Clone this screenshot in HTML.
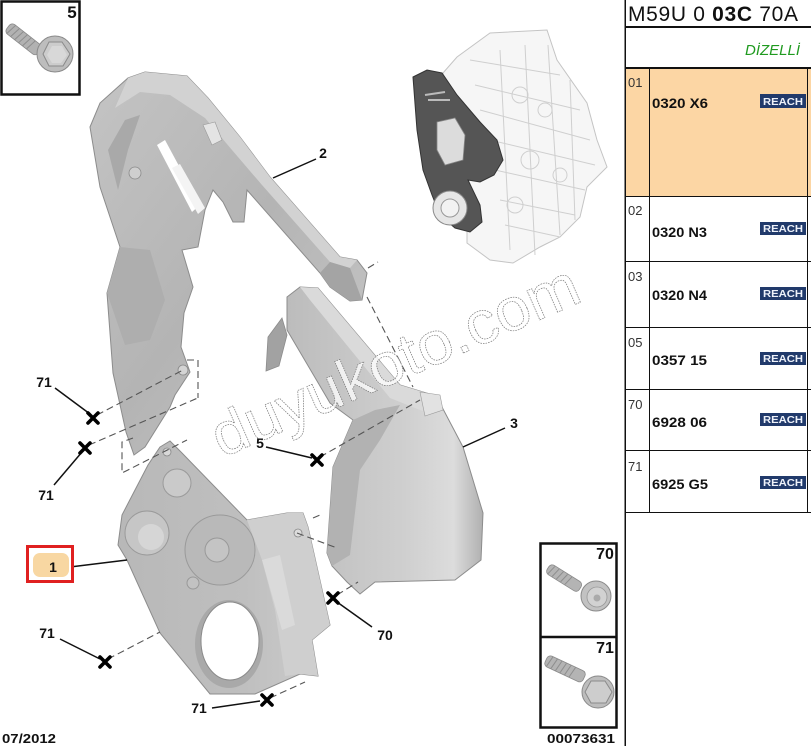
<!DOCTYPE html>
<html><head><meta charset="utf-8"><style>
html,body{margin:0;padding:0;background:#fff;width:811px;height:746px;overflow:hidden}
svg{display:block}
text{font-family:"Liberation Sans",Arial,sans-serif}
</style></head><body>
<svg width="811" height="746" viewBox="0 0 811 746" xmlns="http://www.w3.org/2000/svg">
<defs>
<linearGradient id="g2" x1="0" y1="0" x2="1" y2="1">
<stop offset="0" stop-color="#c4c4c4"/><stop offset="0.5" stop-color="#b4b4b4"/><stop offset="1" stop-color="#c8c8c8"/></linearGradient>
<linearGradient id="g3" x1="0" y1="0" x2="1" y2="0">
<stop offset="0" stop-color="#bcbcbc"/><stop offset="0.6" stop-color="#cfcfcf"/><stop offset="0.85" stop-color="#dcdcdc"/><stop offset="1" stop-color="#b0b0b0"/></linearGradient>
<linearGradient id="g1" x1="0" y1="0" x2="1" y2="0">
<stop offset="0" stop-color="#b8b8b8"/><stop offset="0.6" stop-color="#bfbfbf"/><stop offset="1" stop-color="#cdcdcd"/></linearGradient>
</defs>

<!-- ===== Engine (top right) ===== -->
<g>
<path d="M490,33 L547,30 L557,60 L587,103 L597,140 L607,167 L587,187 L580,217 L560,237 L540,247 L513,263 L490,260 L467,243 L467,230 L443,120 L443,73 L457,57 Z" fill="#f6f6f6" stroke="#c4c4c4" stroke-width="1"/>
<g stroke="#cfcfcf" stroke-width="1" fill="none">
<path d="M470,60 L560,75 M475,85 L580,110 M480,110 L590,140 M490,140 L595,165 M495,170 L585,190 M500,200 L575,215 M505,225 L560,237"/>
<path d="M500,50 L510,250 M525,45 L535,255 M548,45 L560,235 M570,80 L575,220"/>
<circle cx="520" cy="95" r="8"/><circle cx="545" cy="110" r="7"/><circle cx="530" cy="160" r="9"/><circle cx="560" cy="175" r="7"/><circle cx="515" cy="205" r="8"/>
</g>
<path d="M413,77 L427,70 L442,73 L457,95 L480,122 L497,140 L503,160 L494,175 L480,182 L468,180 L480,205 L482,222 L470,232 L455,228 L440,215 L432,195 L423,170 L417,130 Z" fill="#555" stroke="#333" stroke-width="1"/>
<path d="M437,122 L455,118 L465,135 L463,160 L445,165 L437,150 Z" fill="#dcdcdc" stroke="#888" stroke-width="0.8"/>
<path d="M425,95 L445,92 M428,100 L450,100" stroke="#bbb" stroke-width="2"/>
<circle cx="450" cy="208" r="17" fill="#e6e6e6" stroke="#888" stroke-width="1"/>
<circle cx="450" cy="208" r="9" fill="#f2f2f2" stroke="#999" stroke-width="1"/>
</g>

<!-- ===== Part 2 ===== -->
<path d="M90,127 L100,103 L128,78 L145,72 L187,76 L208,98 L240,137 L270,177 L340,257 L357,260 L367,273 L362,300 L350,301 L330,287 L320,273 L247,190 L244,222 L233,222 L223,202 L213,190 L205,210 L198,247 L182,250 L193,287 L184,313 L181,347 L190,372 L175,395 L170,407 L145,447 L134,455 L126,432 L113,373 L107,293 L120,247 L100,187 Z" fill="url(#g2)" stroke="#8c8c8c" stroke-width="1"/>
<path d="M128,78 L145,72 L187,76 L208,98 L240,137 L270,177 L340,257 L357,260 L350,268 L330,262 L262,185 L232,150 L205,118 L170,95 L140,92 L115,108 Z" fill="#d2d2d2"/>
<path d="M320,273 L330,262 L350,268 L362,300 L350,301 L330,287 Z" fill="#a4a4a4"/>
<path d="M157,145 L165,140 L200,205 L192,212 Z" fill="#ffffff"/>
<path d="M172,168 L180,164 L205,208 L198,214 Z" fill="#f4f4f4"/>
<path d="M108,150 L125,120 L140,115 L128,150 L118,190 Z" fill="#a9a9a9"/>
<path d="M107,293 L120,247 L150,250 L165,300 L150,340 L125,345 Z" fill="#aeaeae"/>
<circle cx="135" cy="173" r="6" fill="#cfcfcf" stroke="#8a8a8a" stroke-width="0.8"/>
<path d="M203,125 L215,122 L222,140 L212,145 Z" fill="#e4e4e4" stroke="#999" stroke-width="0.6"/>
<circle cx="183" cy="370" r="5" fill="#d4d4d4" stroke="#888" stroke-width="0.8"/>

<!-- ===== Part 3 ===== -->
<path d="M287,297 L300,287 L318,288 L400,385 L433,395 L442,407 L463,447 L483,513 L481,560 L455,580 L375,582 L360,594 L347,582 L332,566 L327,553 L333,467 L353,420 L330,403 L287,330 Z" fill="url(#g3)" stroke="#8c8c8c" stroke-width="1"/>
<path d="M300,287 L318,288 L400,385 L433,395 L442,407 L425,412 L390,398 L310,300 Z" fill="#dadada"/>
<path d="M282,318 L268,337 L266,371 L279,366 L287,335 Z" fill="#a2a2a2" stroke="#8c8c8c" stroke-width="0.8"/>
<path d="M333,467 L353,420 L375,410 L400,405 L380,440 L360,470 L350,555 L332,566 L327,553 Z" fill="#b2b2b2"/>
<path d="M420,392 L440,395 L443,410 L425,416 Z" fill="#e2e2e2" stroke="#999" stroke-width="0.6"/>

<!-- ===== Part 1 ===== -->
<path d="M160,447 L170,441 L181,452 L247,520 L287,513 L303,513 L308,527 L330,625 L312,640 L318,676 L300,674 L255,694 L210,694 L160,633 L127,560 L118,545 L122,515 L148,465 Z" fill="url(#g1)" stroke="#8c8c8c" stroke-width="1"/>
<path d="M247,520 L287,513 L303,513 L308,527 L330,625 L312,640 L318,676 L300,674 L285,676 L275,610 L262,560 Z" fill="#cfcfcf"/>
<path d="M262,560 L280,555 L295,625 L282,630 Z" fill="#dadada"/>
<circle cx="147" cy="533" r="22" fill="#c6c6c6" stroke="#9a9a9a" stroke-width="1"/>
<circle cx="151" cy="537" r="13" fill="#d6d6d6"/>
<circle cx="177" cy="483" r="14" fill="#cacaca" stroke="#9a9a9a" stroke-width="1"/>
<circle cx="220" cy="550" r="35" fill="#b9b9b9" stroke="#9a9a9a" stroke-width="1"/>
<circle cx="217" cy="550" r="12" fill="#c4c4c4" stroke="#999" stroke-width="1"/>
<circle cx="193" cy="583" r="6" fill="#c2c2c2" stroke="#999" stroke-width="1"/>
<ellipse cx="229" cy="644" rx="34" ry="44" fill="#a9a9a9"/>
<ellipse cx="230" cy="641" rx="29" ry="39" fill="#ffffff" stroke="#8a8a8a" stroke-width="1"/>
<circle cx="167" cy="452" r="4" fill="#d8d8d8" stroke="#888" stroke-width="0.8"/>
<circle cx="298" cy="533" r="4" fill="#dcdcdc" stroke="#888" stroke-width="0.8"/>

<!-- ===== Dashed lines ===== -->
<g stroke="#555" stroke-width="1.1" fill="none" stroke-dasharray="7,4">
<path d="M97,415 L183,370"/>
<path d="M89,445 L200,397"/>
<path d="M187,360 L198,360 L198,398"/>
<path d="M133,438 L122,442 L122,473 L187,440"/>
<path d="M320,457 L420,400"/>
<path d="M337,595 L358,582"/>
<path d="M297,533 L337,548"/>
<path d="M313,518 L320,515"/>
<path d="M108,659 L160,632"/>
<path d="M270,698 L305,682"/>
<path d="M367,297 L413,387"/>
<path d="M368,268 L378,262"/>
</g>

<!-- ===== Watermark ===== -->
<text x="0" y="0" transform="translate(222,458) rotate(-23.5)" font-size="60" fill="#ffffff" fill-opacity="0.75" stroke="#7a7a7a" stroke-width="0.7" stroke-dasharray="1.5,1" textLength="395" lengthAdjust="spacingAndGlyphs">duyukoto.com</text>

<!-- ===== Solid leader lines ===== -->
<g stroke="#111" stroke-width="1.5" fill="none">
<path d="M316,159 L273,178"/>
<path d="M505,428 L463,447"/>
<path d="M266,447 L312,458"/>
<path d="M337,602 L372,627"/>
<path d="M55,388 L90,414"/>
<path d="M82,452 L54,485"/>
<path d="M60,639 L100,659"/>
<path d="M212,708 L260,701"/>
<path d="M70,567 L127,560"/>
</g>

<!-- X markers -->
<g stroke="#000" stroke-width="3.6" stroke-linecap="round">
<path d="M88,413 L98,423 M98,413 L88,423"/>
<path d="M80,443 L90,453 M90,443 L80,453"/>
<path d="M100,657 L110,667 M110,657 L100,667"/>
<path d="M262,695 L272,705 M272,695 L262,705"/>
<path d="M312,455 L322,465 M322,455 L312,465"/>
<path d="M328,593 L338,603 M338,593 L328,603"/>
</g>

<!-- labels -->
<g font-weight="bold" font-size="14" fill="#111" text-anchor="middle">
<text x="323" y="158">2</text>
<text x="514" y="428">3</text>
<text x="260" y="448">5</text>
<text x="385" y="640">70</text>
<text x="44" y="387">71</text>
<text x="46" y="500">71</text>
<text x="47" y="638">71</text>
<text x="199" y="713">71</text>
</g>
<rect x="27.5" y="546.5" width="45" height="35" fill="#fff" stroke="#e02020" stroke-width="3"/>
<rect x="33" y="553" width="36" height="24" rx="7" fill="#f8d7a2"/>
<text x="53" y="572" font-weight="bold" font-size="14" fill="#111" text-anchor="middle">1</text>

<!-- ===== Inset 5 ===== -->
<rect x="1.5" y="1.5" width="78" height="93" fill="none" stroke="#111" stroke-width="2.5"/>
<text x="72" y="18" font-weight="bold" font-size="17" fill="#111" text-anchor="middle">5</text>
<g transform="translate(8,27) rotate(38)">
<rect x="0" y="-6" width="40" height="12" rx="4" fill="#b2b2b2" stroke="#8a8a8a" stroke-width="0.8"/>
<g stroke="#8e8e8e" stroke-width="1"><path d="M5,-6 L3,6 M10,-6 L8,6 M15,-6 L13,6 M20,-6 L18,6 M25,-6 L23,6 M30,-6 L28,6"/></g>
</g>
<circle cx="55" cy="54" r="18" fill="#bdbdbd" stroke="#8a8a8a" stroke-width="1"/>
<polygon points="62,42 70,54 63,66 49,66 43,54 49,42" fill="#cccccc" stroke="#8a8a8a" stroke-width="1"/>
<polygon points="62,46 67,55 61,63 52,63 47,55 52,46" fill="#d8d8d8"/>

<!-- ===== Inset 70 / 71 ===== -->
<rect x="540.5" y="543.5" width="76" height="184" fill="none" stroke="#111" stroke-width="2.5"/>
<line x1="540" y1="637" x2="617" y2="637" stroke="#111" stroke-width="2.5"/>
<text x="605" y="559" font-weight="bold" font-size="16" fill="#111" text-anchor="middle">70</text>
<text x="605" y="653" font-weight="bold" font-size="16" fill="#111" text-anchor="middle">71</text>
<g transform="translate(548,568) rotate(32)">
<rect x="0" y="-5.5" width="38" height="11" rx="4" fill="#b4b4b4" stroke="#8a8a8a" stroke-width="0.8"/>
<g stroke="#8e8e8e" stroke-width="1"><path d="M5,-5 L3,5 M10,-5 L8,5 M15,-5 L13,5 M20,-5 L18,5 M25,-5 L23,5"/></g>
</g>
<circle cx="596" cy="596" r="15" fill="#c2c2c2" stroke="#8a8a8a" stroke-width="1"/>
<circle cx="597" cy="597" r="10" fill="#d2d2d2" stroke="#999" stroke-width="0.8"/>
<circle cx="597" cy="598" r="3.5" fill="#aaa"/>
<g transform="translate(546,660) rotate(25)">
<rect x="0" y="-6" width="42" height="12" rx="4" fill="#b4b4b4" stroke="#8a8a8a" stroke-width="0.8"/>
<g stroke="#8e8e8e" stroke-width="1"><path d="M5,-6 L3,6 M10,-6 L8,6 M15,-6 L13,6 M20,-6 L18,6 M25,-6 L23,6 M30,-6 L28,6"/></g>
</g>
<circle cx="598" cy="692" r="16" fill="#bdbdbd" stroke="#8a8a8a" stroke-width="1"/>
<polygon points="605,681 612,692 606,703 591,703 585,692 591,681" fill="#cdcdcd" stroke="#8a8a8a" stroke-width="1"/>

<!-- bottom labels -->
<text x="2" y="743" font-weight="bold" font-size="13" fill="#111" textLength="54" lengthAdjust="spacingAndGlyphs">07/2012</text>
<text x="547" y="743" font-weight="bold" font-size="13" fill="#111" textLength="68" lengthAdjust="spacingAndGlyphs">00073631</text>

<!-- ===== Table ===== -->
<rect x="626" y="69" width="185" height="127" fill="#fcd6a4"/>
<g shape-rendering="crispEdges" stroke="#111" fill="none">
<line x1="625" y1="0" x2="625" y2="746" stroke-width="1.5"/>
<line x1="625" y1="27" x2="811" y2="27" stroke-width="2"/>
<line x1="625" y1="68" x2="811" y2="68" stroke-width="2"/>
<line x1="649.5" y1="68" x2="649.5" y2="512" stroke-width="1"/>
<line x1="807.5" y1="68" x2="807.5" y2="512" stroke-width="1"/>
<line x1="625" y1="196.5" x2="811" y2="196.5" stroke-width="1"/>
<line x1="625" y1="261.5" x2="811" y2="261.5" stroke-width="1"/>
<line x1="625" y1="327.5" x2="811" y2="327.5" stroke-width="1"/>
<line x1="625" y1="389.5" x2="811" y2="389.5" stroke-width="1"/>
<line x1="625" y1="450.5" x2="811" y2="450.5" stroke-width="1"/>
<line x1="625" y1="512.5" x2="811" y2="512.5" stroke-width="1"/>
</g>
<text x="628" y="21" font-size="21" fill="#111" textLength="170" lengthAdjust="spacing">M59U 0 <tspan font-weight="bold">03C</tspan> 70A</text>
<text x="745" y="55" font-size="15" font-style="italic" fill="#1f9a1f">DİZELLİ</text>

<g font-size="13" fill="#333">
<text x="628" y="87">01</text>
<text x="628" y="215">02</text>
<text x="628" y="281">03</text>
<text x="628" y="347">05</text>
<text x="628" y="409">70</text>
<text x="628" y="471">71</text>
</g>
<g font-size="14" font-weight="bold" fill="#111">
<text x="652" y="108" textLength="56" lengthAdjust="spacingAndGlyphs">0320 X6</text>
<text x="652" y="237" textLength="55" lengthAdjust="spacingAndGlyphs">0320 N3</text>
<text x="652" y="300" textLength="55" lengthAdjust="spacingAndGlyphs">0320 N4</text>
<text x="652" y="365" textLength="55" lengthAdjust="spacingAndGlyphs">0357 15</text>
<text x="652" y="427" textLength="55" lengthAdjust="spacingAndGlyphs">6928 06</text>
<text x="652" y="489" textLength="56" lengthAdjust="spacingAndGlyphs">6925 G5</text>
</g>
<g>
<rect x="760" y="94" width="46" height="14" fill="#213a6b"/>
<rect x="760" y="222" width="46" height="13" fill="#213a6b"/>
<rect x="760" y="287" width="46" height="13" fill="#213a6b"/>
<rect x="760" y="352" width="46" height="13" fill="#213a6b"/>
<rect x="760" y="413" width="46" height="13" fill="#213a6b"/>
<rect x="760" y="476" width="46" height="13" fill="#213a6b"/>
</g>
<g font-size="10" font-weight="bold" fill="#eef2fa" text-anchor="middle">
<text x="783" y="105" textLength="40" lengthAdjust="spacingAndGlyphs">REACH</text>
<text x="783" y="232" textLength="40" lengthAdjust="spacingAndGlyphs">REACH</text>
<text x="783" y="297" textLength="40" lengthAdjust="spacingAndGlyphs">REACH</text>
<text x="783" y="362" textLength="40" lengthAdjust="spacingAndGlyphs">REACH</text>
<text x="783" y="423" textLength="40" lengthAdjust="spacingAndGlyphs">REACH</text>
<text x="783" y="486" textLength="40" lengthAdjust="spacingAndGlyphs">REACH</text>
</g>
</svg>
</body></html>
